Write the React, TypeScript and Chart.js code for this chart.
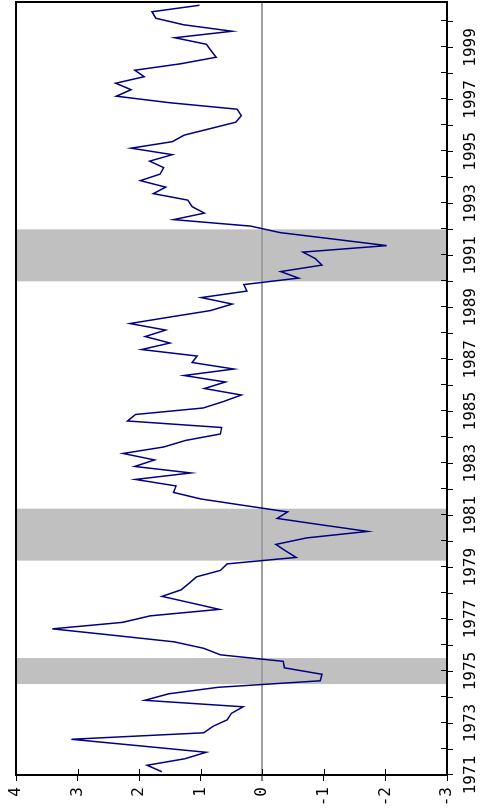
import React, { useEffect, useRef } from "react";
import { Chart, registerables } from "chart.js";

Chart.register(...registerables);

// Quarterly series, first quarter of 1971 onward
const firstYear = 1971;
const quarterlyValues = [
  1.63, 1.87, 1.26, 0.91, 2.0, 3.1, 0.95, 0.8, 0.57, 0.5,
  0.31, 1.91, 1.52, 0.72, -0.94, -0.97, -0.36, -0.34, 0.68, 0.95,
  1.43, 2.41, 3.41, 2.27, 1.82, 0.7, 1.16, 1.63, 1.32, 1.19,
  1.07, 0.68, 0.57, -0.55, -0.38, -0.22, -0.72, -1.71, -0.97, -0.24,
  -0.41, 0.3, 1.0, 1.44, 1.4, 2.06, 1.16, 2.07, 1.75, 2.26,
  1.6, 1.25, 0.68, 0.66, 2.19, 2.06, 0.96, 0.63, 0.34, 0.94,
  0.6, 1.27, 0.46, 1.14, 1.06, 1.96, 1.5, 1.9, 1.57, 2.15,
  1.5, 0.84, 0.49, 0.99, 0.25, 0.3, -0.59, -0.3, -0.97, -0.86,
  -0.66, -2.02, -1.16, -0.29, 0.19, 1.44, 0.94, 1.14, 1.21, 1.77,
  1.57, 1.98, 1.66, 1.6, 1.83, 1.46, 2.13, 1.46, 1.27, 0.85,
  0.43, 0.34, 0.41, 1.51, 2.37, 2.13, 2.38, 1.92, 2.07, 1.32,
  0.75, 0.83, 0.91, 1.42, 0.49, 1.28, 1.73, 1.79, 1.02,
];

const labeledYears = [1971, 1973, 1975, 1977, 1979, 1981, 1983, 1985, 1987, 1989, 1991, 1993, 1995, 1997, 1999];
const valueTicks = [-3, -2, -1, 0, 1, 2, 3, 4];
const recessionStarts = [1974.5, 1979.25, 1990];
const recessionEnds = [1975.5, 1981.25, 1992];

const axisMinYear = 1971;
const axisMaxYear = 2000.75;

const FONT = "'DejaVu Sans Mono', monospace";

const decorPlugin = {
  id: "decor",
  beforeDraw(chart: any) {
    const { ctx, chartArea: a, scales } = chart;
    const x = scales.x;
    ctx.save();
    ctx.fillStyle = "#c0c0c0";
    for (let k = 0; k < recessionStarts.length; k++) {
      const x1 = x.getPixelForValue(recessionStarts[k]);
      const x2 = x.getPixelForValue(recessionEnds[k]);
      ctx.fillRect(x1, a.top, x2 - x1, a.bottom - a.top);
    }
    ctx.restore();
  },
  afterDraw(chart: any) {
    const { ctx, chartArea: a, scales } = chart;
    ctx.save();
    ctx.strokeStyle = "#000";
    ctx.lineWidth = 1;
    ctx.beginPath();
    for (const t of scales.x.ticks) {
      const px = Math.round(scales.x.getPixelForValue(t.value)) + 0.5;
      ctx.moveTo(px, a.bottom);
      ctx.lineTo(px, a.bottom - 6);
    }
    for (const v of valueTicks) {
      const py = Math.round(scales.y.getPixelForValue(v)) + 0.5;
      ctx.moveTo(a.left, py);
      ctx.lineTo(a.left + 6, py);
    }
    ctx.stroke();
    ctx.lineWidth = 2;
    ctx.strokeRect(a.left, a.top, a.right - a.left, a.bottom - a.top);
    ctx.restore();
  },
};

function RotatedChart() {
  const ref = useRef<HTMLCanvasElement | null>(null);

  useEffect(() => {
    if (!ref.current) return;
    const points = quarterlyValues.map((v, i) => ({
      x: firstYear + (i + 0.5) / 4,
      y: v,
    }));
    const chart = new Chart(ref.current, {
      type: "line",
      data: {
        datasets: [
          {
            data: points,
            borderColor: "#000080",
            borderWidth: 1.5,
            pointRadius: 0,
            tension: 0,
            fill: false,
          },
        ],
      },
      options: {
        animation: false,
        responsive: false,
        devicePixelRatio: 1,
        layout: { padding: { left: 0, right: 2, top: 16, bottom: 0 } },
        plugins: { legend: { display: false }, tooltip: { enabled: false } },
        scales: {
          x: {
            type: "linear",
            position: "bottom",
            min: axisMinYear,
            max: axisMaxYear,
            afterFit(s: any) {
              s.height = 33;
            },
            ticks: {
              stepSize: 1,
              autoSkip: false,
              maxRotation: 0,
              minRotation: 0,
              includeBounds: false,
              padding: 8,
              color: "#000",
              font: { family: FONT, size: 16 },
              callback: (v: any) => (labeledYears.includes(Number(v)) ? String(v) : ""),
            },
            grid: {
              drawOnChartArea: false,
              drawTicks: true,
              tickLength: 6,
              color: "#000",
              lineWidth: 1,
            },
            border: { display: false },
          },
          y: {
            type: "linear",
            min: valueTicks[0],
            max: valueTicks[valueTicks.length - 1],
            afterFit(s: any) {
              s.width = 37;
            },
            ticks: {
              stepSize: 1,
              padding: 6,
              color: "#000",
              font: { family: FONT, size: 16 },
              callback: (v: any) => String(v),
            },
            grid: {
              drawTicks: true,
              tickLength: 6,
              color: (c: any) => (c.tick && c.tick.value === 0 ? "#a0a0a0" : "rgba(0,0,0,0)"),
              lineWidth: (c: any) => (c.tick && c.tick.value === 0 ? 2 : 1),
              tickColor: "#000",
              tickWidth: 1,
            },
            border: { display: false },
          },
        },
      },
      plugins: [decorPlugin],
    } as any);
    return () => chart.destroy();
  }, []);

  return (
    <div
      style={{
        position: "fixed",
        left: 0,
        top: 0,
        width: 480,
        height: 812,
        overflow: "hidden",
        background: "#fff",
      }}
    >
      <div
        style={{
          position: "absolute",
          left: 0,
          top: 0,
          width: 812,
          height: 480,
          transformOrigin: "0 0",
          transform: "translate(0px, 812px) rotate(-90deg)",
        }}
      >
        <canvas ref={ref} width={812} height={480} style={{ display: "block", width: 812, height: 480 }} />
      </div>
    </div>
  );
}

export default function App() {
  return <RotatedChart />;
}
